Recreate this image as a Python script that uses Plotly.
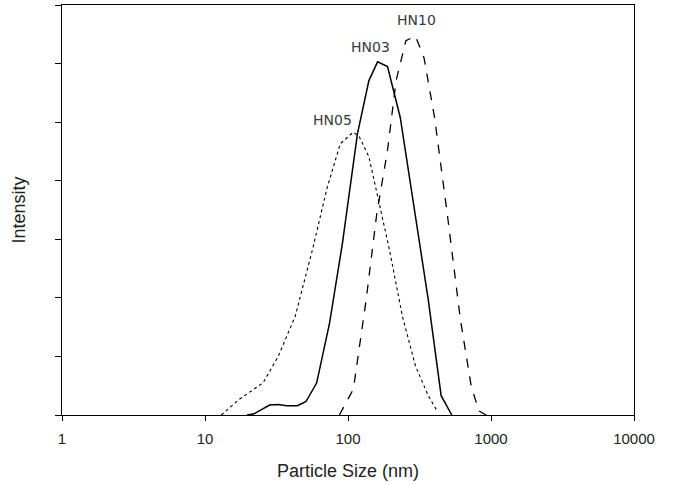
import math
import plotly.graph_objects as go

# HN03 (solid)
hn03_size = [19.7, 22, 28.3, 32.5, 37.3, 44.3, 50.9, 60.4, 74.3, 91.4, 116.4, 140, 161, 189, 232, 295, 364, 448, 532]
hn03_int = [0, 0.02, 0.17, 0.18, 0.16, 0.16, 0.23, 0.55, 1.57, 2.93, 4.80, 5.71, 6.03, 5.95, 5.08, 3.39, 1.97, 0.33, 0]

# HN10 (dashed)
hn10_size = [87, 109, 134, 159, 189, 217, 254, 296, 340, 403, 497, 611, 726, 822, 924]
hn10_int = [0, 0.44, 1.97, 3.44, 4.52, 5.71, 6.39, 6.47, 6.10, 5.08, 3.39, 1.63, 0.50, 0.07, 0]

# HN05 (dotted)
hn05_size = [13.0, 17.4, 25.5, 32.5, 42.8, 56.4, 71.8, 88.3, 109, 120, 140, 164, 195, 240, 296, 364, 424]
hn05_int = [0, 0.27, 0.55, 1.0, 1.69, 2.82, 3.90, 4.63, 4.83, 4.75, 4.41, 3.67, 2.82, 1.69, 0.84, 0.33, 0.05]

labels = ["HN10", "HN03", "HN05"]
label_x = [301, 142.5, 78.5]
label_y = [6.58, 6.12, 4.86]

x_ticks = [1, 10, 100, 1000, 10000]
x_ticklabels = ["1", "10", "100", "1000", "10000"]

fig = go.Figure()
fig.add_trace(go.Scatter(x=hn05_size, y=hn05_int, mode="lines", line=dict(color="black", width=1.1, dash="dot"), name="HN05"))
fig.add_trace(go.Scatter(x=hn03_size, y=hn03_int, mode="lines", line=dict(color="black", width=1.5), name="HN03"))
fig.add_trace(go.Scatter(x=hn10_size, y=hn10_int, mode="lines", line=dict(color="black", width=1.3, dash="dash"), name="HN10"))

for t, xv, yv in zip(labels, label_x, label_y):
    fig.add_annotation(x=math.log10(xv), y=yv, xref="x", yref="y", text=t, showarrow=False,
                       xanchor="center", yanchor="bottom",
                       font=dict(family="DejaVu Sans", size=14, color="#3a3a3a"))

fig.update_layout(
    width=673, height=485,
    margin=dict(l=62, r=39, t=5, b=70),
    paper_bgcolor="white", plot_bgcolor="white",
    showlegend=False,
    font=dict(family="Liberation Sans, Arial", color="#222222"),
)
fig.update_xaxes(
    type="log", range=[0, 4],
    tickvals=x_ticks, ticktext=x_ticklabels,
    ticks="outside", ticklen=5, tickwidth=1, tickcolor="black",
    ticklabelstandoff=5,
    showline=True, linecolor="black", linewidth=1, mirror=True,
    showgrid=False, zeroline=False,
    tickfont=dict(size=15, color="#222222"),
    title=dict(text="Particle Size (nm)", font=dict(size=18, color="#222222"), standoff=18),
)
fig.update_yaxes(
    range=[0, 7], dtick=1, tick0=0,
    ticks="outside", ticklen=6, tickwidth=1, tickcolor="black",
    showticklabels=False,
    showline=True, linecolor="black", linewidth=1, mirror=True,
    showgrid=False, zeroline=False,
    title=dict(text="Intensity", font=dict(size=18, color="#222222"), standoff=24),
)

fig.write_html("out.html", config={"displayModeBar": False},
               post_script="document.body.style.margin='0';")
